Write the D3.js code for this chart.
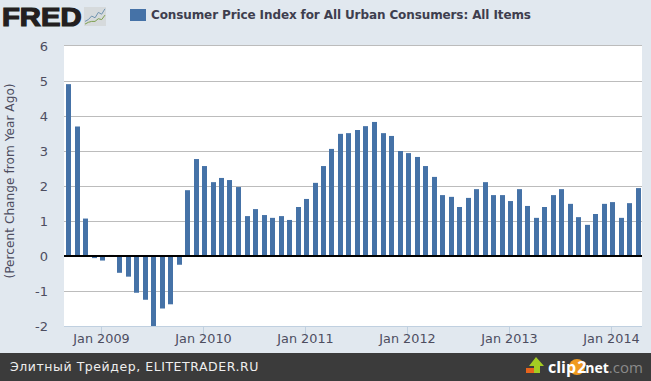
<!DOCTYPE html>
<html>
<head>
<meta charset="utf-8">
<script src="https://cdn.jsdelivr.net/npm/d3@7.9.0/dist/d3.min.js"></script>
<style>
  html, body { margin: 0; padding: 0; background: #e1e8ef; }
  svg { display: block; }
  text { font-family: "DejaVu Sans", sans-serif; }
</style>
</head>
<body>
<svg id="chart" width="651" height="381"></svg>
<script>
// monthly values, first bar is Sep 2008
const startMonth = new Date(2008, 8, 1);
const cpiValues = [
  4.91, 3.7, 1.07, -0.06, -0.13, 0.03, -0.48, -0.59, -1.05, -1.25, -2.0, -1.5, -1.38, -0.25,
  1.88, 2.77, 2.57, 2.11, 2.23, 2.17, 1.97, 1.14, 1.34, 1.17, 1.09, 1.14, 1.03, 1.4, 1.63,
  2.09, 2.57, 3.06, 3.49, 3.51, 3.6, 3.71, 3.83, 3.51, 3.43, 3.0, 2.94, 2.83, 2.57,
  2.26, 1.74, 1.69, 1.4, 1.66, 1.91, 2.11, 1.74, 1.74, 1.57, 1.91, 1.43, 1.09, 1.4, 1.74,
  1.91, 1.49, 1.11, 0.89, 1.2, 1.49, 1.54, 1.09, 1.51, 1.94
];
const yTicks = [-2, -1, 0, 1, 2, 3, 4, 5, 6];
const xTickYears = [2009, 2010, 2011, 2012, 2013, 2014];
const chartTitle = 'Consumer Price Index for All Urban Consumers: All Items';
const yTitle = '(Percent Change from Year Ago)';
const footerText = 'Элитный Трейдер, ELITETRADER.RU';
const iconBlue = [2, 3, 5, 4, 7, 6, 9];
const iconGreen = [0.5, 1.5, 2, 2, 3.5, 3, 5.5];

const data = cpiValues.map((v, i) => ({
  date: new Date(startMonth.getFullYear(), startMonth.getMonth() + i, 1),
  value: v,
}));

const svg = d3.select('#chart');
const plot = { left: 64, right: 642, top: 46, bottom: 326 };

// Jan 2009 sits near 101.4, Jan 2014 near 611.4
const xScale = d3.scaleTime()
  .domain([new Date(2009, 0, 1), new Date(2014, 0, 1)])
  .range([101.4, 611.4]);
const yScale = d3.scaleLinear().domain([-2, 6]).range([plot.bottom, plot.top]);

svg.append('rect')
  .attr('x', plot.left).attr('y', plot.top - 1)
  .attr('width', plot.right - plot.left).attr('height', plot.bottom - plot.top + 1)
  .attr('fill', '#fff');

// gridlines (the top one sits a pixel higher in the original)
const gridY = (d) => (d === 6 ? plot.top - 0.5 : yScale(d) + 0.5);
svg.append('g').selectAll('line')
  .data(yTicks.filter((d) => d !== 0 && d !== -2))
  .join('line')
  .attr('x1', plot.left).attr('x2', plot.right)
  .attr('y1', gridY)
  .attr('y2', gridY)
  .attr('stroke', '#bcbcbc');

// bars
svg.append('g').selectAll('rect')
  .data(data)
  .join('rect')
  .attr('x', (d) => Math.round(xScale(d.date) - 1))
  .attr('y', (d) => Math.min(yScale(d.value), yScale(0)))
  .attr('width', 5)
  .attr('height', (d) => Math.abs(yScale(d.value) - yScale(0)))
  .attr('fill', '#4572a7');

// zero line
svg.append('line')
  .attr('x1', plot.left).attr('x2', plot.right)
  .attr('y1', yScale(0)).attr('y2', yScale(0))
  .attr('stroke', '#000').attr('stroke-width', 2);

// x axis
const xAxis = d3.axisBottom(xScale)
  .tickValues(xTickYears.map((y) => new Date(y, 0, 1)))
  .tickFormat(d3.timeFormat('%b %Y'))
  .tickSize(10)
  .tickSizeOuter(0);
const xG = svg.append('g').attr('transform', `translate(0,${plot.bottom + 0.5})`).call(xAxis);
xG.select('.domain').remove();
xG.append('line').attr('x1', plot.left).attr('x2', plot.right).attr('stroke', '#c0d0e0');
xG.selectAll('.tick').attr('transform', (d) => `translate(${Math.floor(xScale(d)) + 0.5},0)`);
xG.selectAll('.tick line').attr('stroke', '#c0d0e0');
xG.selectAll('.tick text')
  .attr('y', 7)
  .attr('dy', '0.71em')
  .attr('fill', '#4d4d5f')
  .style('font-size', '12.8px')
  .style('font-family', '"DejaVu Sans", sans-serif');

// y labels
const yAxis = d3.axisLeft(yScale).tickValues(yTicks).tickSize(0).tickFormat(d3.format('d'));
const yG = svg.append('g').attr('transform', `translate(${plot.left},0)`).call(yAxis);
yG.select('.domain').remove();
yG.selectAll('.tick text')
  .attr('x', -16)
  .attr('fill', '#4d4d5f')
  .text((d) => String(d))
  .style('font-size', '13px')
  .style('font-family', '"DejaVu Sans", sans-serif');

svg.append('text')
  .attr('transform', 'translate(14,181) rotate(-90)')
  .attr('text-anchor', 'middle')
  .attr('fill', '#4d4d5f')
  .style('font-size', '12.2px')
  .text(yTitle);

// legend
svg.append('rect').attr('x', 130).attr('y', 9).attr('width', 16).attr('height', 12).attr('fill', '#4572a7');
svg.append('text').attr('x', 151).attr('y', 19)
  .attr('fill', '#3e3e4e').style('font-size', '12px').style('font-weight', 'bold')
  .style('letter-spacing', '-0.11px')
  .text(chartTitle);

// FRED logo
svg.append('text')
  .attr('transform', 'translate(2,26) scale(1.17,1)')
  .attr('fill', '#231f20')
  .style('font-family', '"Liberation Sans", sans-serif')
  .style('font-size', '25px').style('font-weight', 'bold')
  .attr('stroke', '#231f20').attr('stroke-width', 1.2)
  .text('FRED');

// small chart icon next to the logo
const iconX = d3.scaleLinear().domain([0, 6]).range([85, 105]);
const iconY = d3.scaleLinear().domain([0, 10]).range([25, 7]);
svg.append('rect').attr('x', 84).attr('y', 7).attr('width', 22).attr('height', 19).attr('fill', '#d6dadc');
[[iconBlue, '#6f93b0'], [iconGreen, '#7ea04f']].forEach(([vals, color]) => {
  svg.append('path')
    .attr('d', d3.line().x((d, i) => iconX(i)).y((d) => iconY(d))(vals))
    .attr('fill', 'none').attr('stroke', color);
});

// footer
const footerTop = 353;
svg.append('rect').attr('x', 0).attr('y', footerTop).attr('width', 651).attr('height', 28).attr('fill', '#3b3b3b');
svg.append('text').attr('x', 10).attr('y', 371)
  .attr('fill', '#eee').style('font-size', '12.5px').style('letter-spacing', '0.55px')
  .text(footerText);

// clip2net logo
svg.append('rect').attr('x', 526).attr('y', 368).attr('width', 9).attr('height', 5).attr('fill', '#e8641c');
svg.append('path')
  .attr('d', 'M529 366 L536 357 L544 366 L540 366 L540 373 L534 373 L534 366 Z')
  .attr('fill', '#a4cc22');
svg.append('circle').attr('cx', 577).attr('cy', 367).attr('r', 8).attr('fill', '#f09a20');
const logoText = svg.append('text').attr('x', 548).attr('y', 373)
  .style('font-family', '"Open Sans", sans-serif').style('font-size', '16px').style('font-weight', 'bold')
  .attr('fill', '#fff');
logoText.append('tspan').text('clip');
logoText.append('tspan').attr('dx', 1).text('2');
logoText.append('tspan').attr('dx', -1).style('font-size', '14px').text('net');
logoText.append('tspan').attr('fill', '#8a8a8a').style('font-weight', 'normal').style('font-size', '15px').text('.com');
</script>
</body>
</html>
